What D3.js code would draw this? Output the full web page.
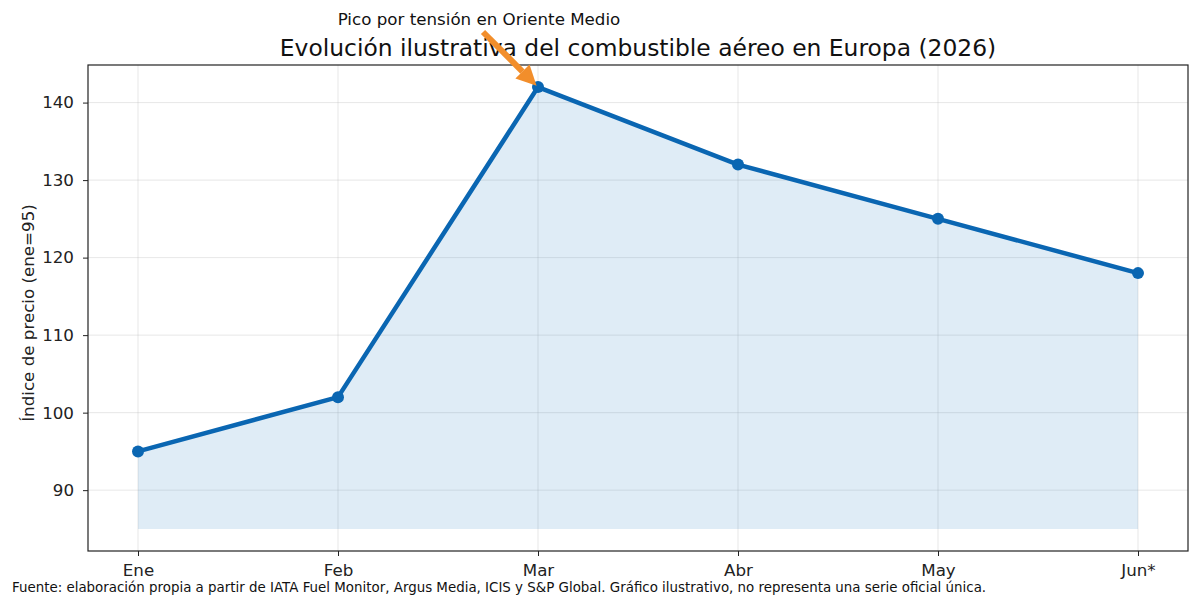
<!DOCTYPE html>
<html>
<head>
<meta charset="utf-8">
<script src="https://cdn.jsdelivr.net/npm/d3@7"></script>
<style>
  body { margin: 0; background: #fff; }
  svg { font-family: "DejaVu Sans", sans-serif; }
</style>
</head>
<body>
<div id="chart"></div>
<script>
// data
const months = ["Ene", "Feb", "Mar", "Abr", "May", "Jun*"];
const priceIndex = [95, 102, 142, 132, 125, 118];
const yTicks = [90, 100, 110, 120, 130, 140];
const fillBase = 85;
const titleText = "Evolución ilustrativa del combustible aéreo en Europa (2026)";
const noteText = "Pico por tensión en Oriente Medio";
const sourceText = "Fuente: elaboración propia a partir de IATA Fuel Monitor, Argus Media, ICIS y S&P Global. Gráfico ilustrativo, no representa una serie oficial única.";

const W = 1200, H = 607;
const margin = { top: 65, right: 12, bottom: 56, left: 88 };
const width = W - margin.left - margin.right;
const height = H - margin.top - margin.bottom;

const svg = d3.select("#chart").append("svg")
    .attr("width", W)
    .attr("height", H);

const g = svg.append("g")
    .attr("transform", `translate(${margin.left},${margin.top})`);

// scales (matplotlib-like 5% margins)
const x = d3.scaleLinear()
    .domain([-0.25, months.length - 1 + 0.25])
    .range([0, width]);

const y = d3.scaleLinear()
    .domain([82.15, 144.85])
    .range([height, 0]);

// grid
g.append("g")
    .selectAll("line.vgrid")
    .data(months)
    .enter().append("line")
    .attr("x1", (d, i) => x(i)).attr("x2", (d, i) => x(i))
    .attr("y1", 0).attr("y2", height)
    .attr("stroke", "#b0b0b0")
    .attr("stroke-opacity", 0.3)
    .attr("stroke-width", 1);

g.append("g")
    .selectAll("line.hgrid")
    .data(yTicks)
    .enter().append("line")
    .attr("x1", 0).attr("x2", width)
    .attr("y1", d => y(d)).attr("y2", d => y(d))
    .attr("stroke", "#b0b0b0")
    .attr("stroke-opacity", 0.3)
    .attr("stroke-width", 1);

// area
const area = d3.area()
    .x((d, i) => x(i))
    .y0(y(fillBase))
    .y1(d => y(d));

g.append("path")
    .datum(priceIndex)
    .attr("fill", "#2a7fc4")
    .attr("fill-opacity", 0.15)
    .attr("d", area);

// line
const line = d3.line()
    .x((d, i) => x(i))
    .y(d => y(d));

g.append("path")
    .datum(priceIndex)
    .attr("fill", "none")
    .attr("stroke", "#0a66b2")
    .attr("stroke-width", 4.5)
    .attr("stroke-linejoin", "round")
    .attr("d", line);

g.selectAll("circle.pt")
    .data(priceIndex)
    .enter().append("circle")
    .attr("cx", (d, i) => x(i))
    .attr("cy", d => y(d))
    .attr("r", 6)
    .attr("fill", "#0a66b2");

// axes
const xAxis = d3.axisBottom(x)
    .tickValues(d3.range(months.length))
    .tickFormat(i => months[i])
    .tickSizeInner(5)
    .tickSizeOuter(0)
    .tickPadding(8);

const yAxis = d3.axisLeft(y)
    .tickValues(yTicks)
    .tickSizeInner(5)
    .tickSizeOuter(0)
    .tickPadding(9);

const gx = g.append("g")
    .attr("transform", `translate(0,${height})`)
    .call(xAxis);
const gy = g.append("g").call(yAxis);

[gx, gy].forEach(a => {
    a.select(".domain").remove();
    a.selectAll(".tick line").attr("stroke", "#222").attr("stroke-width", 1);
    a.selectAll(".tick text")
        .attr("fill", "#222")
        .style("font-size", "16.7px")
        .style("font-family", "DejaVu Sans, sans-serif");
});

// frame
g.append("rect")
    .attr("width", width)
    .attr("height", height)
    .attr("fill", "none")
    .attr("stroke", "#222")
    .attr("stroke-width", 1.2);

// y label
svg.append("text")
    .attr("transform", `translate(34,${margin.top + height / 2 + 5}) rotate(-90)`)
    .attr("text-anchor", "middle")
    .attr("fill", "#222")
    .style("font-size", "16.7px")
    .text("Índice de precio (ene=95)");

// title
svg.append("text")
    .attr("x", margin.left + width / 2)
    .attr("y", 56)
    .attr("text-anchor", "middle")
    .attr("fill", "#111")
    .style("font-size", "23.4px")
    .text(titleText);

// annotation
const peakIdx = priceIndex.indexOf(d3.max(priceIndex));
const px = margin.left + x(peakIdx), py = margin.top + y(priceIndex[peakIdx]);

svg.append("text")
    .attr("x", 479)
    .attr("y", 25)
    .attr("text-anchor", "middle")
    .attr("fill", "#111")
    .style("font-size", "16.7px")
    .text(noteText);

const ax0 = 483, ay0 = 32;
const ang = Math.atan2(py - ay0, px - ax0);
const headLen = 20, headW = 10;
const bx = px - Math.cos(ang) * 2, by = py - Math.sin(ang) * 2;
const hx = bx - Math.cos(ang) * headLen, hy = by - Math.sin(ang) * headLen;
const nx = -Math.sin(ang), ny = Math.cos(ang);

svg.append("line")
    .attr("x1", ax0).attr("y1", ay0)
    .attr("x2", hx).attr("y2", hy)
    .attr("stroke", "#f28e2b")
    .attr("stroke-width", 6);

svg.append("path")
    .attr("d", `M${bx},${by} L${hx + nx * headW},${hy + ny * headW} L${hx - nx * headW},${hy - ny * headW} Z`)
    .attr("fill", "#f28e2b");

// source note
svg.append("text")
    .attr("x", 12)
    .attr("y", 592)
    .attr("fill", "#111")
    .style("font-size", "13.4px")
    .text(sourceText);
</script>
</body>
</html>
